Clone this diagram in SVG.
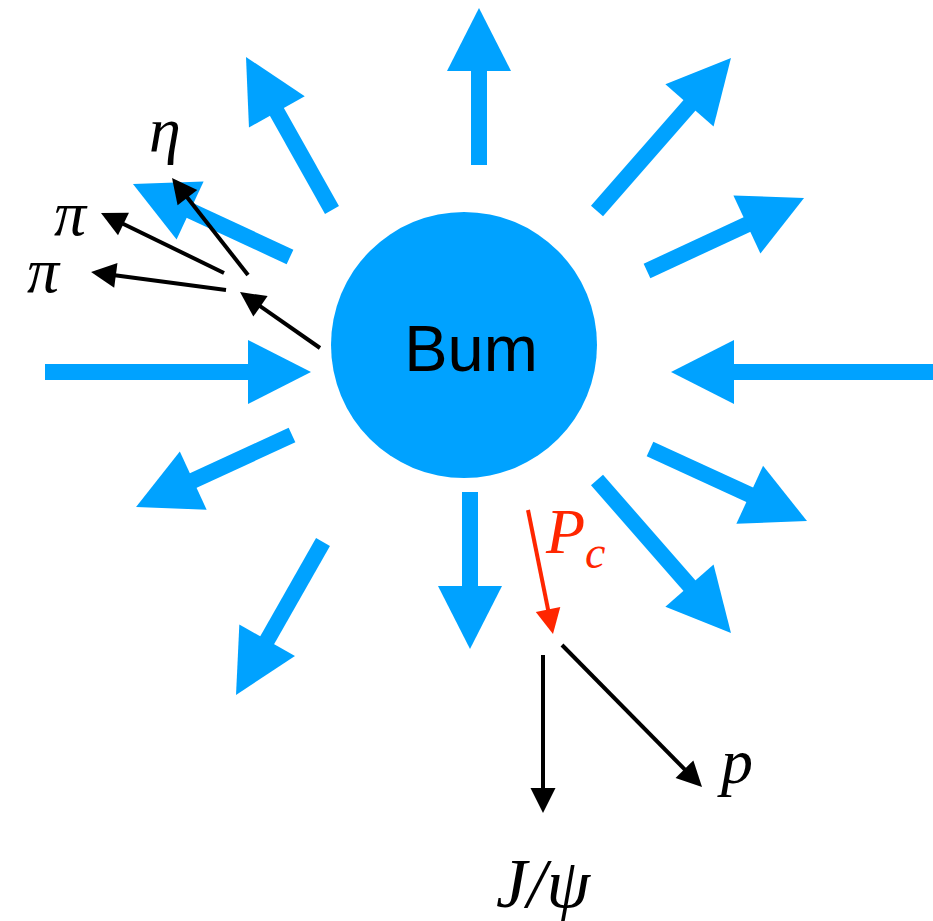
<svg xmlns="http://www.w3.org/2000/svg" width="933" height="921" viewBox="0 0 933 921">
<defs>
<marker id="bh" markerUnits="userSpaceOnUse" markerWidth="64" markerHeight="64" refX="43" refY="32" orient="auto" overflow="visible">
<path d="M0,0 L63,32 L0,64 Z" fill="#00a2ff"/>
</marker>
<marker id="kh" markerUnits="userSpaceOnUse" markerWidth="25" markerHeight="25" refX="20" refY="12.5" orient="auto" overflow="visible">
<path d="M0,0 L25,12.5 L0,25 Z" fill="#000"/>
</marker>
<marker id="rh" markerUnits="userSpaceOnUse" markerWidth="25" markerHeight="25" refX="20" refY="12.5" orient="auto" overflow="visible">
<path d="M0,0 L25,12.5 L0,25 Z" fill="#ff2600"/>
</marker>
</defs>
<style>
.b{stroke:#00a2ff;stroke-width:16;fill:none;marker-end:url(#bh)}
.k{stroke:#000;stroke-width:4;fill:none;marker-end:url(#kh)}
.r{stroke:#ff2600;stroke-width:4;fill:none;marker-end:url(#rh)}
.m{font-family:"Liberation Serif","DejaVu Serif",serif;font-style:italic;font-size:64px;fill:#000}
</style>
<rect width="933" height="921" fill="#fff"/>
<g id="flow">
<line class="b" x1="479" y1="165" x2="479" y2="28"/>
<line class="b" x1="597" y1="211" x2="717.8" y2="73"/>
<line class="b" x1="647" y1="271" x2="785.9" y2="206.4"/>
<line class="b" x1="933" y1="372" x2="691" y2="372"/>
<line class="b" x1="650" y1="449" x2="788.8" y2="512.7"/>
<line class="b" x1="597" y1="480" x2="717.8" y2="618"/>
<line class="b" x1="470" y1="492" x2="470" y2="629"/>
<line class="b" x1="323" y1="542" x2="245.9" y2="677.6"/>
<line class="b" x1="292" y1="435" x2="154.2" y2="498.6"/>
<line class="b" x1="45" y1="372" x2="291" y2="372"/>
<line class="b" x1="290" y1="257" x2="151.1" y2="192.4"/>
<line class="b" x1="332" y1="210" x2="255.8" y2="74.4"/>
</g>
<g id="bum">
<circle cx="464" cy="345" r="133" fill="#00a2ff"/>
<text x="471" y="371" text-anchor="middle" font-family="Liberation Sans, Arial, sans-serif" font-size="65" fill="#000">Bum</text>
</g>
<g id="decays">
<line class="k" x1="320" y1="348" x2="244.1" y2="294.9"/>
<line class="k" x1="226" y1="290" x2="96" y2="272.7"/>
<line class="k" x1="224" y1="273" x2="105.5" y2="215.2"/>
<line class="k" x1="248" y1="275" x2="175.1" y2="181.9"/>
<line class="r" x1="528" y1="510" x2="552" y2="629.1"/>
<line class="k" x1="543" y1="655" x2="543" y2="808"/>
<line class="k" x1="562" y1="645" x2="698.5" y2="783.4"/>
</g>
<g id="labels">
<text class="m" x="149" y="151">η</text>
<text class="m" x="54" y="235">π</text>
<text class="m" x="27" y="292">π</text>
<text class="m" x="546" y="553" style="fill:#ff2600">P<tspan font-size="46" dy="15">c</tspan></text>
<text class="m" x="496" y="907" style="font-size:70px">J/ψ</text>
<text class="m" x="721" y="783">p</text>
</g>
</svg>
